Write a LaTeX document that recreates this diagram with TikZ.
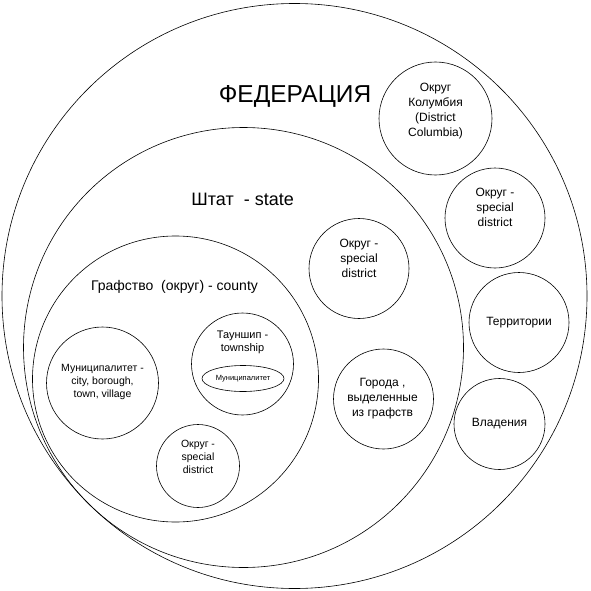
\documentclass[tikz,border=0pt]{standalone}
\usepackage{fontspec}
\setmainfont{Liberation Sans}
\usepackage{tikz}
\usetikzlibrary{shapes.geometric,positioning}

\begin{document}
\begin{tikzpicture}[
  x=1pt, y=-1pt,
  zone/.style={circle, draw, line width=0.6pt, inner sep=0pt},
  txt/.style={align=center, inner sep=0pt, font=\fontsize{12}{15}\selectfont},
  small/.style={align=center, inner sep=0pt, font=\fontsize{10.5}{13}\selectfont}
]
  \useasboundingbox (0,0) rectangle (591,591);

  \node[zone, minimum size=585pt] (fed) at (294.5,296) {};
  \node[zone, minimum size=440pt] (state) at (243.5,347.5) {};
  \node[zone, minimum size=286pt] (county) at (175.5,379) {};

  \node[zone, minimum size=113pt] (dc) at (435.5,118.5) {};
  \node[zone, minimum size=100pt] (fedsd) at (495,218) {};
  \node[zone, minimum size=100pt] (terr) at (519,322.5) {};
  \node[zone, minimum size=91pt] (poss) at (499.5,424) {};
  \node[zone, minimum size=100pt] (statesd) at (359,268.5) {};
  \node[zone, minimum size=100pt] (cities) at (383.5,399) {};
  \node[zone, minimum size=112pt] (muni) at (102.5,383) {};
  \node[zone, minimum size=102pt] (town) at (242.5,364) {};
  \node[zone, minimum size=83pt] (countysd) at (198,466) {};
  \node[ellipse, draw, line width=0.6pt, inner sep=0pt, minimum width=82pt, minimum height=26pt,
        font=\fontsize{7.5}{9}\selectfont] (townmuni) at (243,378.5) {Муниципалитет};

  \node[anchor=base, inner sep=0pt, font=\fontsize{24.5}{28}\selectfont] (fedTitle) at (295,102.6) {ФЕДЕРАЦИЯ};
  \node[anchor=base, inner sep=0pt, font=\fontsize{18}{21}\selectfont] (stateTitle) at (242.6,205.7) {Штат~ - state};
  \node[anchor=base, inner sep=0pt, font=\fontsize{14}{17}\selectfont] (countyTitle) at (174.5,290.5) {Графство~ (округ) - county};

  \node[txt] (dcText) at ([yshift=7.5pt]dc.center) {Округ\\Колумбия\\ (District\\Columbia)};
  \node[txt] (fedsdText) at ([yshift=10.5pt]fedsd.center) {Округ -\\special\\district};
  \node[txt] (terrText) at (terr.center) {Территории};
  \node[txt] (possText) at (poss.center) {Владения};
  \node[txt] (statesdText) at ([yshift=10.5pt]statesd.center) {Округ -\\special\\district};
  \node[txt] (citiesText) at ([xshift=-1pt]cities.center) {Города ,\\выделенные\\из графств};
  \node[small] (muniText) at ([yshift=1pt]muni.center) {Муниципалитет -\\city, borough,\\town, village};
  \node[small, font=\fontsize{11}{13}\selectfont] (townText) at ([yshift=22pt]town.center) {Тауншип -\\township};
  \node[small] (countysdText) at ([yshift=9pt]countysd.center) {Округ -\\special\\district};
\end{tikzpicture}
\end{document}
